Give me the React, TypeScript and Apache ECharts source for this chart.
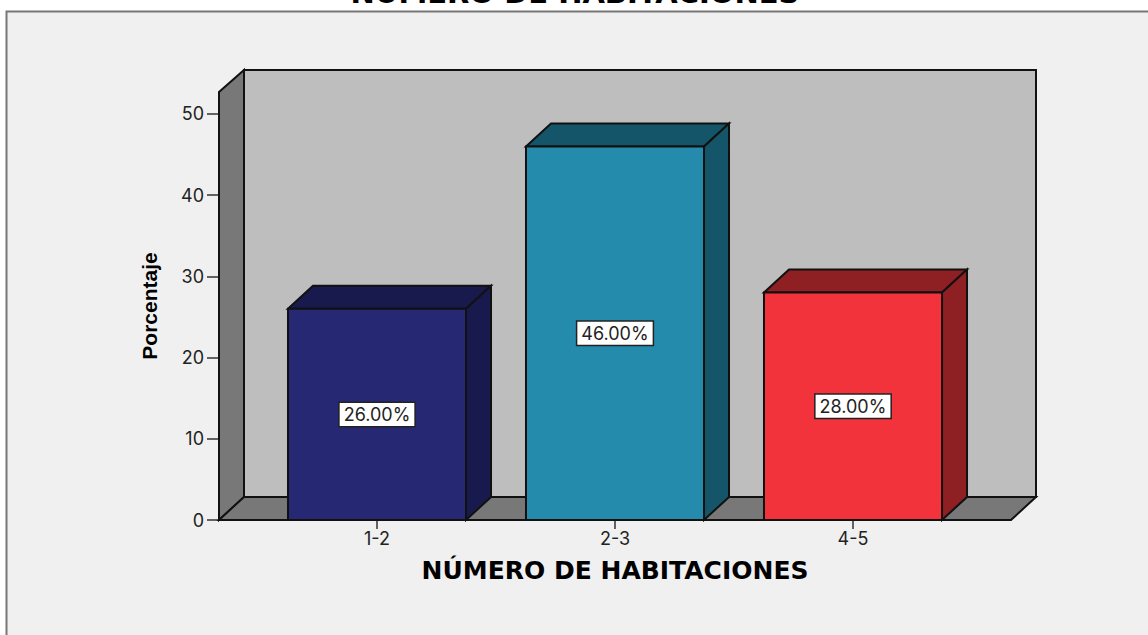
import React, { useEffect, useRef } from "react";
import * as echarts from "echarts";

const categories = ["1-2", "2-3", "4-5"];
const percentages = [26, 46, 28];
const frontColors = ["#272873", "#248bad", "#f2333b"];
const shadeColors = ["#181a4d", "#14556a", "#8e1f22"];
const yTicks = [0, 10, 20, 30, 40, 50];

const DX = 25;
const DY = -23;
const LINE = "#111";

export default function App() {
  const ref = useRef<HTMLDivElement>(null);
  useEffect(() => {
    const chart = echarts.init(ref.current!, null, { renderer: "svg" });
    chart.setOption({
      animation: false,
      backgroundColor: "#ffffff",
      title: {
        text: "NÚMERO DE HABITACIONES",
        left: 570,
        top: -27,
        textAlign: "center",
        textStyle: { fontFamily: "DejaVu Sans", fontWeight: "bold", fontSize: 29, color: "#000" },
      },
      grid: { left: 258, width: 714, top: 92, height: 428 },
      graphic: [
        { type: "rect", z: 0, shape: { x: 6.5, y: 11.5, width: 1300, height: 800 }, style: { fill: "#f0f0f0", stroke: "#777", lineWidth: 2 } },
        { type: "rect", z: 1, shape: { x: 244, y: 70, width: 792, height: 427 }, style: { fill: "#bebebe", stroke: LINE, lineWidth: 2 } },
        { type: "polygon", z: 1, shape: { points: [[219, 92], [244, 70], [244, 497], [219, 520]] }, style: { fill: "#787878", stroke: LINE, lineWidth: 2 } },
        { type: "polygon", z: 1, shape: { points: [[219, 520], [244, 497], [1036, 497], [1011, 520]] }, style: { fill: "#787878", stroke: LINE, lineWidth: 2 } },
      ],
      xAxis: {
        type: "category",
        data: categories,
        axisLine: { show: false },
        axisTick: { show: true, alignWithLabel: true, length: 9, lineStyle: { color: "#333", width: 1.5 } },
        axisLabel: { fontFamily: "Inter", fontSize: 18, color: "#222", margin: 9 },
        name: "NÚMERO DE HABITACIONES",
        nameLocation: "middle",
        nameGap: 38,
        nameTextStyle: { fontFamily: "DejaVu Sans", fontWeight: "bold", fontSize: 25, color: "#000" },
      },
      yAxis: {
        type: "value",
        min: 0,
        max: 52.7,
        interval: 10,
        offset: 39,
        splitLine: { show: false },
        axisLine: { show: false },
        axisTick: { show: true, length: 12, customValues: yTicks, lineStyle: { color: "#333", width: 1.5 } },
        axisLabel: { fontFamily: "Inter", fontSize: 18, color: "#222", margin: 15, customValues: yTicks },
        name: "Porcentaje",
        nameLocation: "middle",
        nameGap: 59,
        nameRotate: 90,
        nameTextStyle: { fontFamily: "Liberation Sans", fontWeight: "bold", fontSize: 21, color: "#000" },
      },
      series: [
        {
          type: "custom",
          z: 3,
          data: percentages.map((v, i) => [i, v]),
          encode: { x: 0, y: 1 },
          renderItem: (params: any, api: any) => {
            const i = api.value(0);
            const v = api.value(1);
            const top = api.coord([i, v]);
            const base = api.coord([i, 0]);
            const half = (api.size([1, 0])[0] * 0.748) / 2;
            const l = top[0] - half;
            const r = top[0] + half;
            const common = { stroke: LINE, lineWidth: 2 };
            return {
              type: "group",
              children: [
                { type: "polygon", shape: { points: [[l, top[1]], [l + DX, top[1] + DY], [r + DX, top[1] + DY], [r, top[1]]] }, style: { fill: shadeColors[i], ...common } },
                { type: "polygon", shape: { points: [[r, top[1]], [r + DX, top[1] + DY], [r + DX, base[1] + DY], [r, base[1]]] }, style: { fill: shadeColors[i], ...common } },
                { type: "rect", shape: { x: l, y: top[1], width: r - l, height: base[1] - top[1] }, style: { fill: frontColors[i], ...common } },
                {
                  type: "text",
                  style: {
                    text: v.toFixed(2) + "%",
                    x: top[0],
                    y: (top[1] + base[1]) / 2,
                    align: "center",
                    verticalAlign: "middle",
                    fontFamily: "Inter",
                    fontSize: 18,
                    fill: "#222",
                    backgroundColor: "#ffffff",
                    borderColor: "#222",
                    borderWidth: 1.5,
                    padding: [3, 4, 2, 4],
                  },
                },
              ],
            };
          },
        },
      ],
    });
    return () => chart.dispose();
  }, []);
  return <div ref={ref} style={{ position: "fixed", left: 0, top: 0, width: 1148, height: 635 }} />;
}
